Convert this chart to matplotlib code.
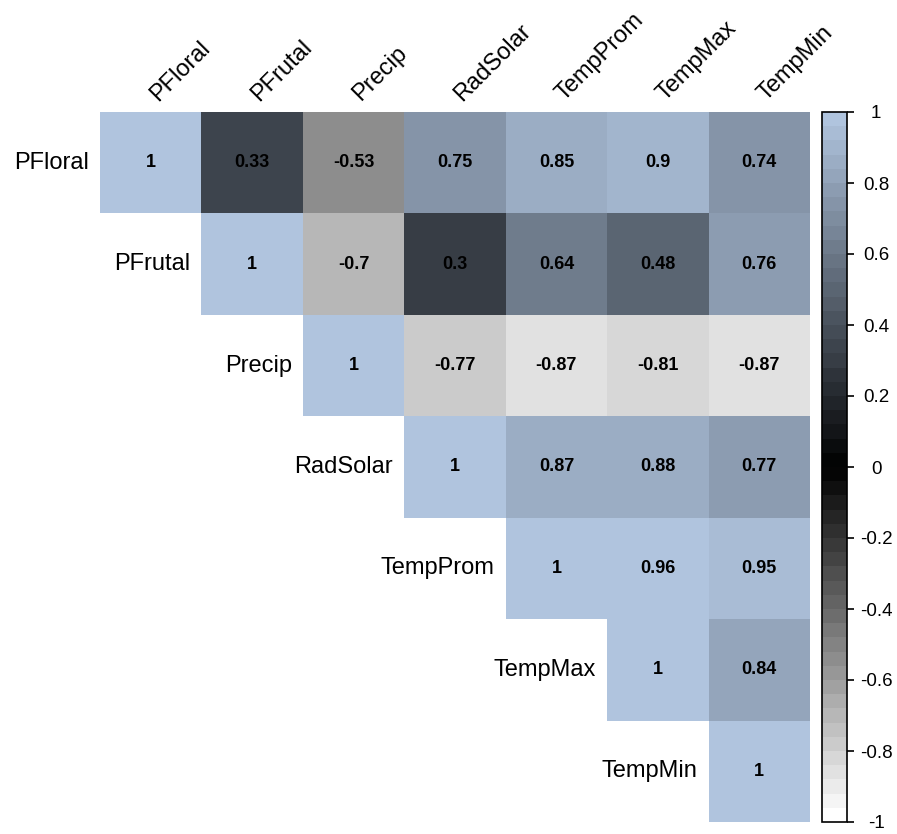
import numpy as np
import matplotlib
matplotlib.use("Agg")
import matplotlib.pyplot as plt
from matplotlib.colors import LinearSegmentedColormap, ListedColormap, BoundaryNorm
import matplotlib.cm as cm

plt.rcParams['font.family'] = ['Liberation Sans', 'DejaVu Sans']

variables = ["PFloral", "PFrutal", "Precip", "RadSolar", "TempProm", "TempMax", "TempMin"]
row_PFloral = [1, 0.33, -0.53, 0.75, 0.85, 0.9, 0.74]
row_PFrutal = [1, -0.7, 0.3, 0.64, 0.48, 0.76]
row_Precip = [1, -0.77, -0.87, -0.81, -0.87]
row_RadSolar = [1, 0.87, 0.88, 0.77]
row_TempProm = [1, 0.96, 0.95]
row_TempMax = [1, 0.84]
row_TempMin = [1]
rows = [row_PFloral, row_PFrutal, row_Precip, row_RadSolar, row_TempProm, row_TempMax, row_TempMin]
cbar_ticks = [-1, -0.8, -0.6, -0.4, -0.2, 0, 0.2, 0.4, 0.6, 0.8, 1]
cbar_labels = ["-1", "-0.8", "-0.6", "-0.4", "-0.2", "0", "0.2", "0.4", "0.6", "0.8", "1"]

n = len(variables)
M = np.full((n, n), np.nan)
for i, r in enumerate(rows):
    for k, v in enumerate(r):
        M[i, i + k] = v

base = LinearSegmentedColormap.from_list("c", ["#FFFFFF", "#000000", "#B0C4DE"])
nb = 50
cmap = ListedColormap(base(np.linspace(0, 1, nb)))
bounds = np.linspace(-1, 1, nb + 1)
norm = BoundaryNorm(bounds, cmap.N)

W, H = 897, 834
fig = plt.figure(figsize=(W / 100, H / 100), dpi=100)
L, R, T, B = 100, 810, 112, 822
ax = fig.add_axes([L / W, 1 - B / H, (R - L) / W, (B - T) / H])
ax.pcolormesh(np.arange(n + 1), np.arange(n + 1), np.ma.masked_invalid(M), cmap=cmap, norm=norm)
ax.set_xlim(0, n)
ax.set_ylim(n, 0)
ax.axis('off')

for i in range(n):
    for j in range(i, n):
        v = M[i, j]
        ax.text(j + 0.5, i + 0.5, f"{v:g}", ha='center', va='center', fontsize=13, fontweight='bold', color='black')
    ax.text(i - 0.11, i + 0.5, variables[i], ha='right', va='center', fontsize=17, color='black')
    ax.text(i + 0.57, -0.1, variables[i], ha='left', va='baseline', rotation=45, rotation_mode='anchor', fontsize=17, color='black', clip_on=False)

cax = fig.add_axes([822 / W, 1 - B / H, 25 / W, (B - T) / H])
sm = cm.ScalarMappable(norm=norm, cmap=cmap)
cb = fig.colorbar(sm, cax=cax, boundaries=bounds, ticks=cbar_ticks, drawedges=False)
cb.minorticks_off()
cb.set_ticklabels(cbar_labels)
cb.outline.set_edgecolor('black')
cb.outline.set_linewidth(1.2)
cax.tick_params(axis='y', which='major', length=5, width=1.2, labelsize=13.5, pad=16, colors='black')
for t in cax.get_yticklabels():
    t.set_horizontalalignment('center')

fig.savefig("out.png", dpi=100)
